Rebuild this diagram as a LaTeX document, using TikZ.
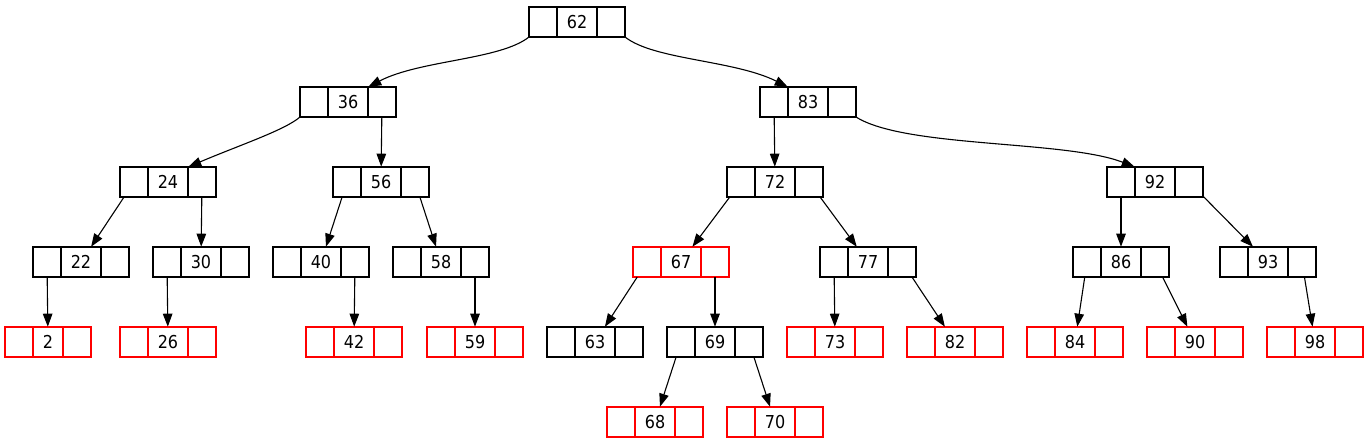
\documentclass[tikz,border=0pt]{standalone}
\usepackage{fontspec}
\setmainfont[FakeStretch=0.9]{DejaVu Sans}
\usetikzlibrary{arrows.meta}
\tikzset{
  cell/.style={draw=#1, line width=1.1pt, minimum height=30pt, inner sep=0pt, outer sep=0pt,
    font=\fontsize{17.8}{20}\selectfont, text=black},
  cell/.default=black,
  edge/.style={draw=black, line width=1.1pt, -{Triangle[length=13pt,width=9.5pt]}, shorten >=0.3pt},
}
% \rec{name}{x}{y}{label}{colour}{middle width}
\newcommand{\rec}[6]{%
  \node[cell=#5, minimum width=#6pt] (#1) at (#2,#3) {#4};
  \node[cell=#5, minimum width=28pt, anchor=east] (#1l) at (#1.west) {};
  \node[cell=#5, minimum width=28pt, anchor=west] (#1r) at (#1.east) {};
}
\begin{document}
\begin{tikzpicture}[x=1pt,y=-1pt]
\useasboundingbox (0,0) rectangle (1368,443);
% level 0
\rec{n62}{577}{22}{62}{black}{40}
% level 1
\rec{n36}{348}{102}{36}{black}{40}
\rec{n83}{808}{102}{83}{black}{40}
% level 2
\rec{n24}{168}{182}{24}{black}{40}
\rec{n56}{381}{182}{56}{black}{40}
\rec{n72}{775}{182}{72}{black}{40}
\rec{n92}{1155}{182}{92}{black}{40}
% level 3
\rec{n22}{81}{262}{22}{black}{40}
\rec{n30}{201}{262}{30}{black}{40}
\rec{n40}{321}{262}{40}{black}{40}
\rec{n58}{441}{262}{58}{black}{40}
\rec{n67}{681}{262}{67}{red}{40}
\rec{n77}{868}{262}{77}{black}{40}
\rec{n86}{1121}{262}{86}{black}{40}
\rec{n93}{1268}{262}{93}{black}{40}
% level 4
\rec{n2}{48}{342}{2}{red}{30}
\rec{n26}{168}{342}{26}{red}{40}
\rec{n42}{354}{342}{42}{red}{40}
\rec{n59}{475}{342}{59}{red}{40}
\rec{n63}{595}{342}{63}{black}{40}
\rec{n69}{715}{342}{69}{black}{40}
\rec{n73}{835}{342}{73}{red}{40}
\rec{n82}{955}{342}{82}{red}{40}
\rec{n84}{1075}{342}{84}{red}{40}
\rec{n90}{1195}{342}{90}{red}{40}
\rec{n98}{1315}{342}{98}{red}{40}
% level 5
\rec{n68}{655}{422}{68}{red}{40}
\rec{n70}{775}{422}{70}{red}{40}
% curved edges
\draw[edge] (n62l.south west) .. controls (500,60) and (420,60) .. (n36.north east);
\draw[edge] (n62r.south east) .. controls (654,60) and (734,60) .. (n83.north west);
\draw[edge] (n36l.south west) .. controls (285,130) and (240,145) .. (n24.north east);
\draw[edge] (n83r.south east) .. controls (905,148) and (1065,140) .. (n92.north west);
% straight edges
\draw[edge] (n36r) -- (n56);
\draw[edge] (n83l) -- (n72);
\draw[edge] (n24l) -- (n22);
\draw[edge] (n24r) -- (n30);
\draw[edge] (n56l) -- (n40);
\draw[edge] (n56r) -- (n58);
\draw[edge] (n72l) -- (n67);
\draw[edge] (n72r) -- (n77);
\draw[edge] (n92l) -- (n86);
\draw[edge] (n92r) -- (n93);
\draw[edge] (n22l) -- (n2);
\draw[edge] (n30l) -- (n26);
\draw[edge] (n40r) -- (n42);
\draw[edge] (n58r) -- (n59);
\draw[edge] (n67l) -- (n63);
\draw[edge] (n67r) -- (n69);
\draw[edge] (n77l) -- (n73);
\draw[edge] (n77r) -- (n82);
\draw[edge] (n86l) -- (n84);
\draw[edge] (n86r) -- (n90);
\draw[edge] (n93r) -- (n98);
\draw[edge] (n69l) -- (n68);
\draw[edge] (n69r) -- (n70);
\end{tikzpicture}
\end{document}
